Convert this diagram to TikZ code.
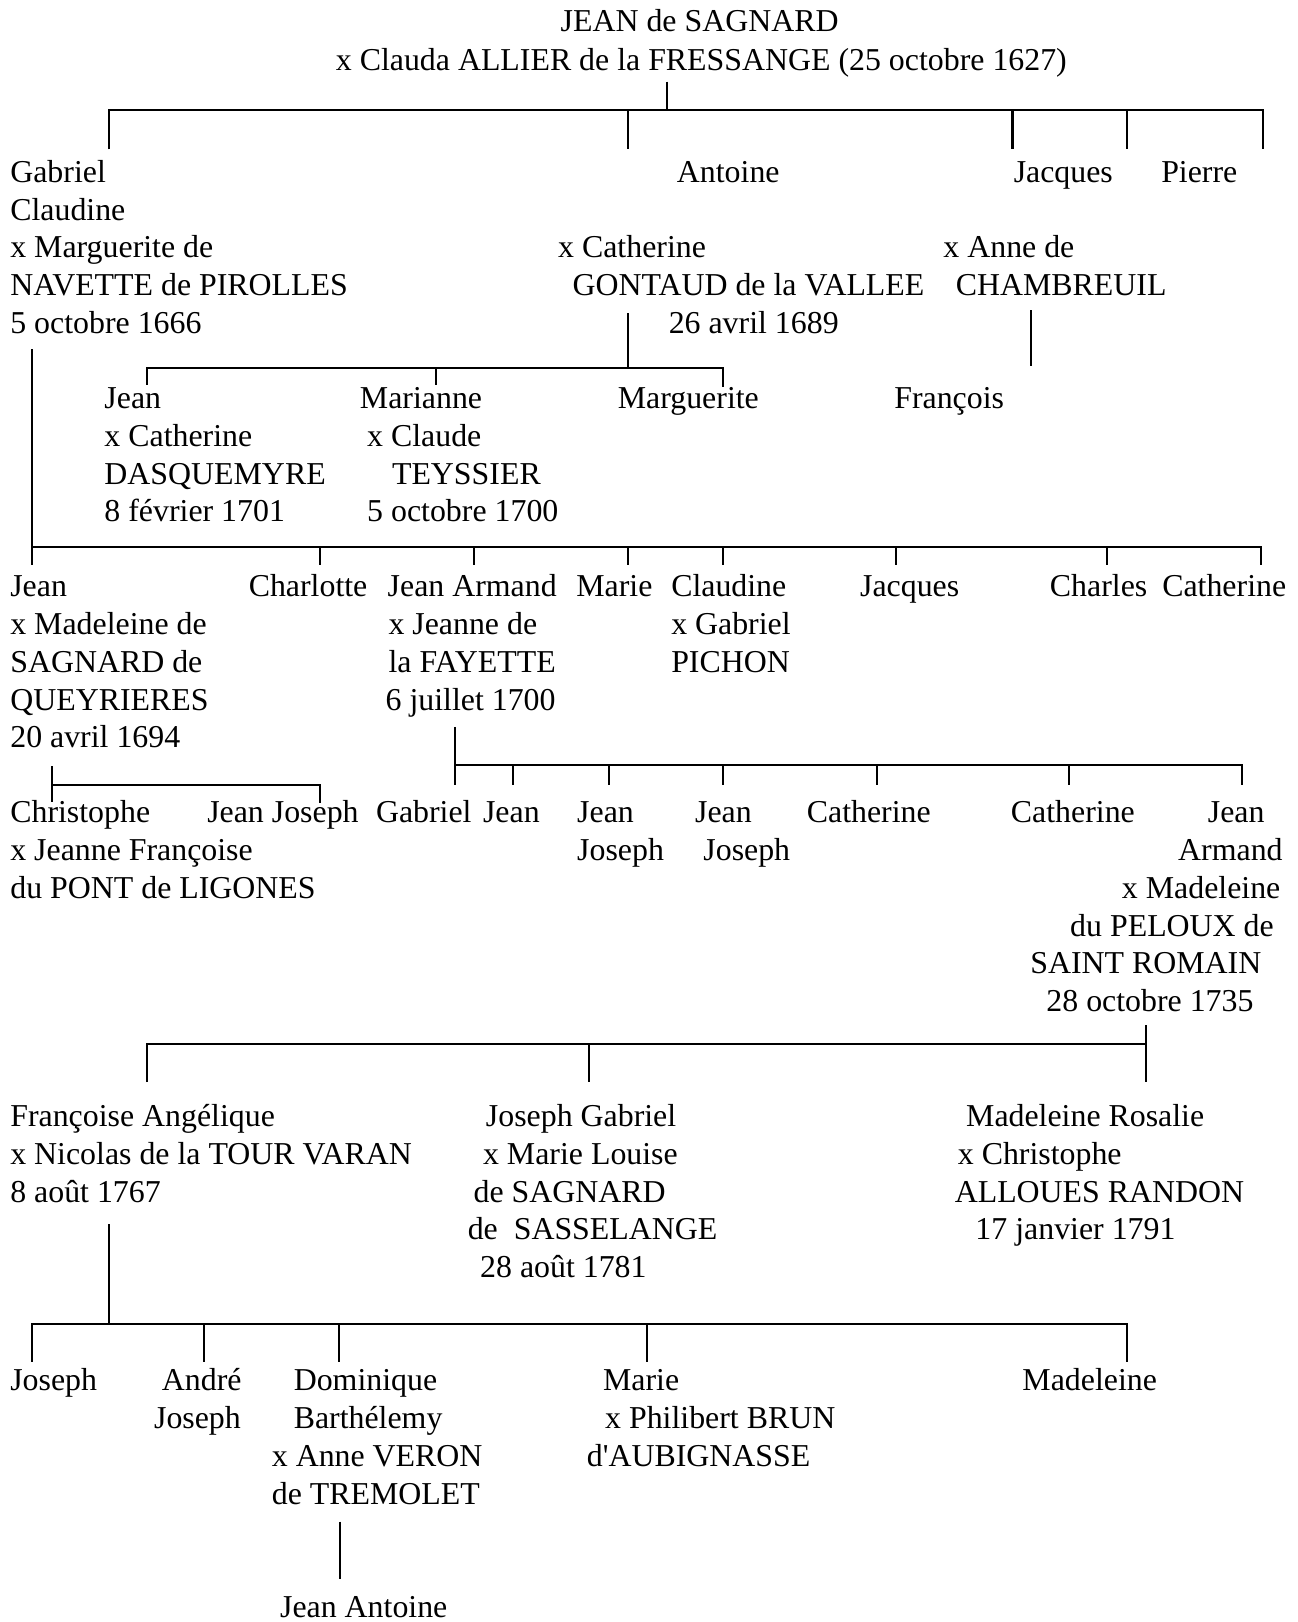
\documentclass[tikz,border=0pt]{standalone}
\usepackage{fontspec}
\setmainfont{Liberation Serif}
\begin{document}
\begin{tikzpicture}[x=0.5pt,y=-0.5pt,
  lbl/.style={anchor=base west,inner sep=0pt,outer sep=0pt,font=\fontsize{15.4pt}{18.4pt}\selectfont},
  link/.style={line width=1pt,line join=miter}]
\useasboundingbox (0,0) rectangle (1254,1568);

% ---------- root ----------
\node[lbl] (root1) at (542,30.6) {JEAN de SAGNARD};
\node[lbl] (root2) at (324.7,67.7) {x Clauda ALLIER de la FRESSANGE (25 octobre 1627)};
\coordinate (r0) at (644.4,79);
\coordinate (r1) at (644.4,106.4);
\coordinate (bA1) at (105.5,144.4);
\coordinate (bA1t) at (105.5,106.4);
\coordinate (bA5t) at (1220.5,106.4);
\coordinate (bA5) at (1220.5,144.4);
\coordinate (bA2t) at (607,106.4);   \coordinate (bA2) at (607,144.4);
\coordinate (bA3t) at (978.8,106.4); \coordinate (bA3) at (978.8,144.4);
\coordinate (bA4t) at (1089.8,106.4);\coordinate (bA4) at (1089.8,144.4);
\draw[link] (r0) -- (r1);
\draw[link] (bA1) -- (bA1t) -- (bA5t) -- (bA5);
\draw[link] (bA2t) -- (bA2);
\draw[link] (bA3t) -- (bA3);
\draw[link] (bA4t) -- (bA4);

% ---------- generation 2 ----------
\node[lbl] (g1) at (10,176) {Gabriel};
\node[lbl] (g2) at (10,212.7) {Claudine};
\node[lbl] (g3) at (10,249.4) {x Marguerite de};
\node[lbl] (g4) at (10,286.1) {NAVETTE de PIROLLES};
\node[lbl] (g5) at (10,322.8) {5 octobre 1666};
\node[lbl] (an1) at (654.4,176) {Antoine};
\node[lbl] (an2) at (539.6,249.4) {x Catherine};
\node[lbl] (an3) at (553.6,286.1) {GONTAUD de la VALLEE};
\node[lbl] (an4) at (646.5,322.8) {26 avril 1689};
\node[lbl] (jq1) at (980,176) {Jacques};
\node[lbl] (pi1) at (1122.6,176) {Pierre};
\node[lbl] (pi2) at (912,249.4) {x Anne de};
\node[lbl] (pi3) at (924,286.1) {CHAMBREUIL};

% Antoine's children bracket
\coordinate (an0) at (607,303);
\coordinate (an0b) at (607,355.5);
\coordinate (bB1) at (142.4,372);
\coordinate (bB1t) at (142.4,355.5);
\coordinate (bB3t) at (699,355.5);
\coordinate (bB3) at (699,373.8);
\coordinate (bB2t) at (421.2,355.5);
\coordinate (bB2) at (421.2,372);
\draw[link] (an0) -- (an0b);
\draw[link] (bB1) -- (bB1t) -- (bB3t) -- (bB3);
\draw[link] (bB2t) -- (bB2);
% Pierre -> Francois
\coordinate (pi0) at (996.5,300);
\coordinate (pi0b) at (996.5,354);
\draw[link] (pi0) -- (pi0b);

% ---------- generation 3 (Antoine / Pierre) ----------
\node[lbl] (ja1) at (101,395) {Jean};
\node[lbl] (ja2) at (101,431.5) {x Catherine};
\node[lbl] (ja3) at (101,468) {DASQUEMYRE};
\node[lbl] (ja4) at (101,504.5) {8 février 1701};
\node[lbl] (ma1) at (348,395) {Marianne};
\node[lbl] (ma2) at (355,431.5) {x Claude};
\node[lbl] (ma3) at (379,468) {TEYSSIER};
\node[lbl] (ma4) at (355,504.5) {5 octobre 1700};
\node[lbl] (mg1) at (597.3,395) {Marguerite};
\node[lbl] (fr1) at (864.5,395) {François};

% Gabriel's children bracket
\coordinate (ga0) at (31.3,337.7);
\coordinate (bC1t) at (31.3,529.2);
\coordinate (bC1) at (31.3,546.3);
\coordinate (bC8t) at (1219,529.2);
\coordinate (bC8) at (1219,546.3);
\draw[link] (ga0) -- (bC1);
\draw[link] (bC1t) -- (bC8t) -- (bC8);
\foreach \n/\xx in {2/309.7,3/458.6,4/606.8,5/699,6/866.3,7/1070}{
  \coordinate (bC\n t) at (\xx,529.2);
  \coordinate (bC\n) at (\xx,546.3);
  \draw[link] (bC\n t) -- (bC\n);
}

% ---------- generation 3 (Gabriel) ----------
\node[lbl] (je1) at (10,577) {Jean};
\node[lbl] (je2) at (10,613.5) {x Madeleine de};
\node[lbl] (je3) at (10,650) {SAGNARD de};
\node[lbl] (je4) at (10,686.5) {QUEYRIERES};
\node[lbl] (je5) at (10,723) {20 avril 1694};
\node[lbl] (ch1) at (240.5,577) {Charlotte};
\node[lbl] (ar1) at (374.8,577) {Jean Armand};
\node[lbl] (ar2) at (375.6,613.5) {x Jeanne de};
\node[lbl] (ar3) at (375.6,650) {la FAYETTE};
\node[lbl] (ar4) at (372.8,686.5) {6 juillet 1700};
\node[lbl] (mr1) at (557.2,577) {Marie};
\node[lbl] (cl1) at (648.9,577) {Claudine};
\node[lbl] (cl2) at (648.9,613.5) {x Gabriel};
\node[lbl] (cl3) at (648.9,650) {PICHON};
\node[lbl] (jc1) at (831.5,577) {Jacques};
\node[lbl] (cs1) at (1015,577) {Charles};
\node[lbl] (ct1) at (1123.6,577) {Catherine};

% Jean's children bracket
\coordinate (je0) at (50.1,740.6);
\coordinate (je0b) at (50.1,775);
\coordinate (bD1t) at (50.1,759);
\coordinate (bD2t) at (309.4,759);
\coordinate (bD2) at (309.4,776.7);
\draw[link] (je0) -- (je0b);
\draw[link] (bD1t) -- (bD2t) -- (bD2);

% Jean Armand's children bracket
\coordinate (ar0) at (439.7,702.6);
\coordinate (bE1t) at (439.7,739.6);
\coordinate (bE1) at (439.7,759);
\coordinate (bE7t) at (1201,739.6);
\coordinate (bE7) at (1201,759);
\draw[link] (ar0) -- (bE1);
\draw[link] (bE1t) -- (bE7t) -- (bE7);
\foreach \n/\xx in {2/495.7,3/588.7,4/699,5/848,6/1033}{
  \coordinate (bE\n t) at (\xx,739.6);
  \coordinate (bE\n) at (\xx,759);
  \draw[link] (bE\n t) -- (bE\n);
}

% ---------- generation 4 ----------
\node[lbl] (cr1) at (10,795.5) {Christophe};
\node[lbl] (cr2) at (10,832) {x Jeanne Françoise};
\node[lbl] (cr3) at (10,868.5) {du PONT de LIGONES};
\node[lbl] (jj1) at (200.4,795.5) {Jean Joseph};
\node[lbl] (gb1) at (363.5,795.5) {Gabriel};
\node[lbl] (jn1) at (467,795.5) {Jean};
\node[lbl] (jo1) at (558,795.5) {Jean};
\node[lbl] (jo2) at (558,832) {Joseph};
\node[lbl] (jp1) at (672,795.5) {Jean};
\node[lbl] (jp2) at (680,832) {Joseph};
\node[lbl] (ca1) at (780,795.5) {Catherine};
\node[lbl] (cb1) at (977.3,795.5) {Catherine};
\node[lbl] (jr1) at (1167.7,795.5) {Jean};
\node[lbl] (jr2) at (1139,832) {Armand};
\node[lbl] (jr3) at (1084.6,868.5) {x Madeleine};
\node[lbl] (jr4) at (1034.6,905) {du PELOUX de};
\node[lbl] (jr5) at (996,941.5) {SAINT ROMAIN};
\node[lbl] (jr6) at (1011.6,978) {28 octobre 1735};

% Jean Armand (jr) children bracket
\coordinate (jr0) at (1107.7,991);
\coordinate (bF3t) at (1107.7,1009);
\coordinate (bF3) at (1107.7,1045.8);
\coordinate (bF1) at (142,1046);
\coordinate (bF1t) at (142,1009);
\coordinate (bF2t) at (569.7,1009);
\coordinate (bF2) at (569.7,1046);
\draw[link] (jr0) -- (bF3);
\draw[link] (bF1) -- (bF1t) -- (bF3t);
\draw[link] (bF2t) -- (bF2);

% ---------- generation 5 ----------
\node[lbl] (fa1) at (10,1089) {Françoise Angélique};
\node[lbl] (fa2) at (10,1125.5) {x Nicolas de la TOUR VARAN};
\node[lbl] (fa3) at (10,1162) {8 août 1767};
\node[lbl] (jg1) at (469.8,1089) {Joseph Gabriel};
\node[lbl] (jg2) at (467,1125.5) {x Marie Louise};
\node[lbl] (jg3) at (457.8,1162) {de SAGNARD};
\node[lbl] (jg4) at (452.2,1198.5) {de~~SASSELANGE};
\node[lbl] (jg5) at (464.2,1235) {28 août 1781};
\node[lbl] (mro1) at (934,1089) {Madeleine Rosalie};
\node[lbl] (mro2) at (926,1125.5) {x Christophe};
\node[lbl] (mro3) at (923,1162) {ALLOUES RANDON};
\node[lbl] (mro4) at (943,1198.5) {17 janvier 1791};

% Francoise's children bracket
\coordinate (fa0) at (105.4,1183.5);
\coordinate (fa0b) at (105.4,1279.5);
\coordinate (bG1) at (31.3,1316.5);
\coordinate (bG1t) at (31.3,1279.5);
\coordinate (bG5t) at (1089.8,1279.5);
\coordinate (bG5) at (1089.8,1316.5);
\draw[link] (fa0) -- (fa0b);
\draw[link] (bG1) -- (bG1t) -- (bG5t) -- (bG5);
\foreach \n/\xx in {2/197.6,3/327.9,4/625.8}{
  \coordinate (bG\n t) at (\xx,1279.5);
  \coordinate (bG\n) at (\xx,1316.5);
  \draw[link] (bG\n t) -- (bG\n);
}

% ---------- generation 6 ----------
\node[lbl] (js1) at (10,1344.6) {Joseph};
\node[lbl] (ad1) at (156.5,1344.6) {André};
\node[lbl] (ad2) at (149,1381) {Joseph};
\node[lbl] (dm1) at (284,1344.6) {Dominique};
\node[lbl] (dm2) at (284,1381) {Barthélemy};
\node[lbl] (dm3) at (262.8,1417.5) {x Anne VERON};
\node[lbl] (dm4) at (262.8,1454) {de TREMOLET};
\node[lbl] (mi1) at (583,1344.6) {Marie};
\node[lbl] (mi2) at (585,1381) {x Philibert BRUN};
\node[lbl] (mi3) at (567.3,1417.5) {d\textquotesingle AUBIGNASSE};
\node[lbl] (md1) at (988.4,1344.6) {Madeleine};

\coordinate (dm0) at (328.5,1471);
\coordinate (dm0b) at (328.5,1526);
\draw[link] (dm0) -- (dm0b);
\node[lbl] (ja7) at (270.8,1564) {Jean Antoine};
\end{tikzpicture}
\end{document}
